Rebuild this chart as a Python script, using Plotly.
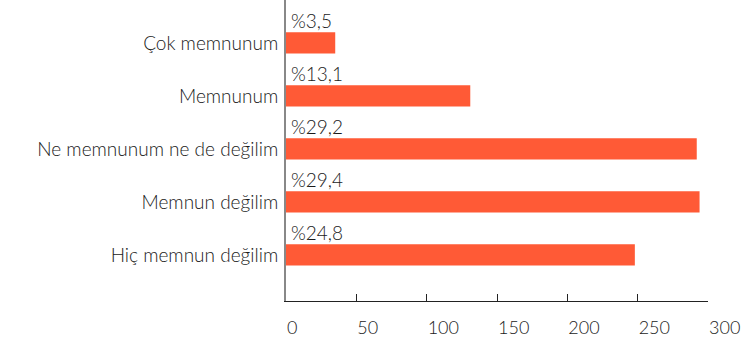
import plotly.graph_objs as go

CATEGORIES = ["Hiç memnun değilim", "Memnun değilim", "Ne memnunum ne de değilim",
              "Memnunum", "Çok memnunum"]
COUNTS = [248, 294, 292, 131, 35]
PERCENTS = [24.8, 29.4, 29.2, 13.1, 3.5]
X_TICKS = [0, 50, 100, 150, 200, 250, 300]

FONT = "Lato, Open Sans, sans-serif"
TEXT_COLOR = "#1a1a1a"

fig = go.Figure()
fig.add_trace(
    go.Bar(y=CATEGORIES, x=COUNTS, orientation="h", width=0.4,
           marker=dict(color="#ff5a36", line=dict(width=0)))
)

# percentage labels above each bar
for cat, p in zip(CATEGORIES, PERCENTS):
    fig.add_annotation(x=0, y=cat, xref="x", yref="y", text="%" + str(p).replace(".", ","),
                       showarrow=False, xanchor="left", yanchor="middle",
                       xshift=3, yshift=22,
                       font=dict(family=FONT, size=19, weight=300, color=TEXT_COLOR))

fig.update_layout(
    width=748, height=345,
    margin=dict(l=286, r=40, t=0, b=44, autoexpand=False),
    plot_bgcolor="white", paper_bgcolor="white",
    showlegend=False,
    font=dict(family=FONT, size=19, weight=300, color=TEXT_COLOR),
    xaxis=dict(range=[0, 300], tickvals=X_TICKS, showgrid=False, zeroline=False,
               showline=True, linecolor="#222", linewidth=1,
               ticks="inside", ticklen=7, tickwidth=1, tickcolor="#222",
               ticklabelposition="outside right", ticklabelstandoff=10,
               tickfont=dict(size=18, weight=300)),
    yaxis=dict(range=[-0.87, 4.81], showgrid=False, zeroline=False,
               showline=True, linecolor="#888", linewidth=2,
               ticks="", ticklabelstandoff=2, automargin=False),
)

fig.write_html("out.html", config={"displayModeBar": False},
               post_script="document.body.style.margin='0px';")
